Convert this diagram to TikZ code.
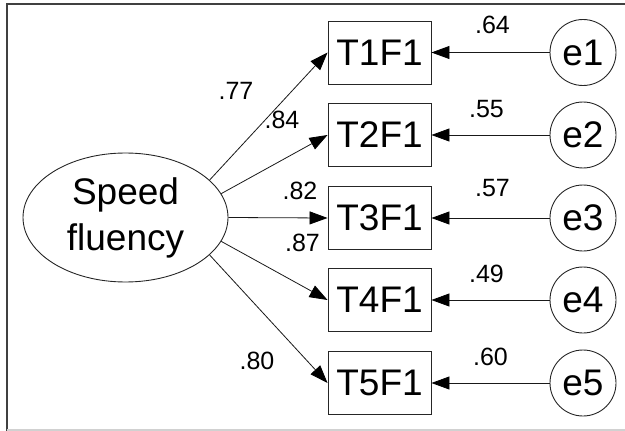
\documentclass[tikz,border=0pt]{standalone}
\usepackage{fontspec}
\setmainfont{Liberation Sans}
\usetikzlibrary{arrows.meta,shapes.geometric}
\tikzset{
  obs/.style={draw=black!85, line width=0.9pt, rectangle, minimum width=103pt, minimum height=63pt, inner sep=0pt, font=\fontsize{37}{44}\selectfont},
  lat/.style={draw=black!85, line width=0.9pt, ellipse, minimum width=205pt, minimum height=129pt, inner sep=0pt, align=center, font=\fontsize{37}{46}\selectfont},
  err/.style={draw=black!85, line width=0.9pt, circle, minimum size=66pt, inner sep=0pt, font=\fontsize{37}{44}\selectfont},
  lbl/.style={inner sep=0pt, font=\fontsize{25}{30}\selectfont},
  path/.style={draw=black!90, line width=0.8pt, -{Triangle[length=18pt,width=13pt,color=black,fill=black]}}
}
\begin{document}
\begin{tikzpicture}[x=1pt,y=-1pt]
\useasboundingbox (0,0) rectangle (625,431);
% frame
\draw[black!75, line width=1.6pt] (7,431) -- (7,3.8) -- (625,3.8);
\draw[black!18, line width=1.2pt] (7,430) -- (625,430);

% latent factor
\node[lat] (sf) at (125.5,217.5) {Speed\\fluency};

% indicators
\node[obs] (t1) at (379.5,52.5) {T1F1};
\node[obs] (t2) at (379.5,135) {T2F1};
\node[obs] (t3) at (379.5,218) {T3F1};
\node[obs] (t4) at (379.5,300) {T4F1};
\node[obs] (t5) at (379.5,383) {T5F1};

% error terms
\node[err] (e1) at (583,52.5) {e1};
\node[err] (e2) at (583,135) {e2};
\node[err] (e3) at (583,218) {e3};
\node[err] (e4) at (583,300) {e4};
\node[err] (e5) at (583,383) {e5};

% loadings
\draw[path] (sf.24.2) -- (t1.west);
\draw[path] (sf.14.2) -- (t2.west);
\draw[path] (sf.0) -- (t3.west);
\draw[path] (sf.-14.2) -- (t4.west);
\draw[path] (sf.-24.2) -- (t5.west);

% error paths
\draw[path] (e1) -- (t1);
\draw[path] (e2) -- (t2);
\draw[path] (e3) -- (t3);
\draw[path] (e4) -- (t4);
\draw[path] (e5) -- (t5);

% loading estimates
\node[lbl] (l1) at (236,91) {.77};
\node[lbl] (l2) at (282,120) {.84};
\node[lbl] (l3) at (300,191) {.82};
\node[lbl] (l4) at (302.5,243) {.87};
\node[lbl] (l5) at (257,361) {.80};

% error estimates
\node[lbl] (r1) at (492.5,25) {.64};
\node[lbl] (r2) at (486.5,109) {.55};
\node[lbl] (r3) at (492.5,188.5) {.57};
\node[lbl] (r4) at (486.5,273.5) {.49};
\node[lbl] (r5) at (490.5,356.5) {.60};
\end{tikzpicture}
\end{document}
